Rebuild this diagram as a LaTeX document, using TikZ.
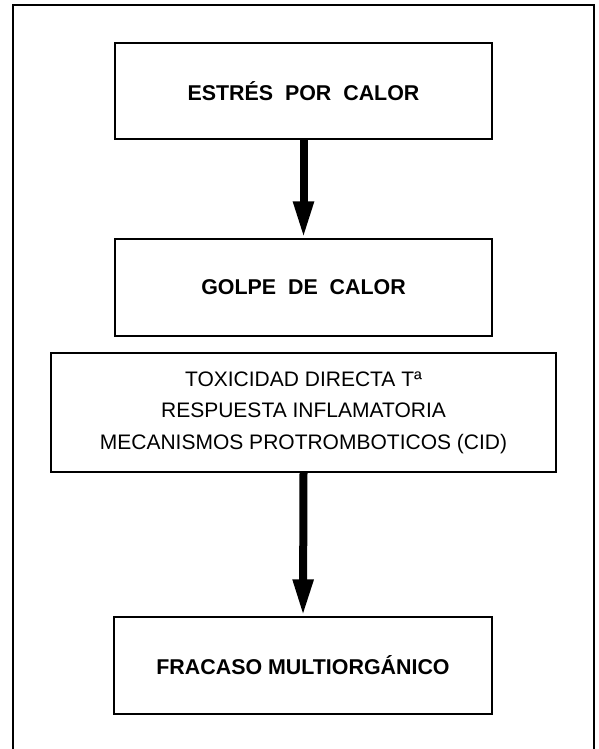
\documentclass[tikz,border=0pt]{standalone}
\usepackage{fontspec}
\setmainfont{Liberation Sans}
\usetikzlibrary{arrows.meta}
\tikzset{
  stagebox/.style={draw=black, line width=1.4pt, minimum width=377pt, minimum height=96pt, inner sep=0pt, align=center, font=\fontsize{21.4}{25}\selectfont\bfseries},
  widebox/.style={draw=black, line width=1.4pt, minimum width=505pt, minimum height=119pt, inner sep=0pt, align=center, font=\fontsize{21}{31.5}\selectfont},
  bigarrow/.style={line width=8pt, -{Triangle[width=19pt,length=37pt]}}
}
\begin{document}
\begin{tikzpicture}[x=1pt,y=-1pt]
\useasboundingbox (0,0) rectangle (599,749);
\draw[line width=2pt] (13,760) -- (13,5) -- (594,5) -- (594,760);
\node[stagebox] (estres) at (303.5,91) {ESTRÉS\ \ POR\ \ CALOR};
\node[stagebox, minimum height=97pt] (golpe) at (303.5,287.5) {GOLPE\ \ DE\ \ CALOR};
\node[widebox] (mecan) at (303.5,412.5) {TOXICIDAD DIRECTA Tª\\RESPUESTA INFLAMATORIA\\MECANISMOS PROTROMBOTICOS (CID)};
\node[stagebox, minimum width=378pt, minimum height=97pt] (fracaso) at (303,665.5) {FRACASO MULTIORGÁNICO};
\draw[bigarrow] (estres.south) -- (golpe.north);
\draw[bigarrow] (mecan.south) -- (fracaso.north);
\end{tikzpicture}
\end{document}
